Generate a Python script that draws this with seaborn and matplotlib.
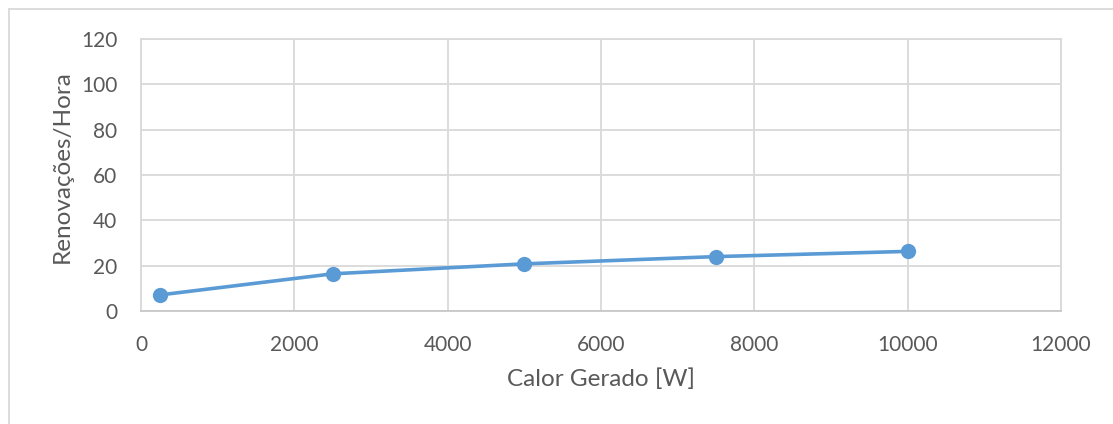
import matplotlib
matplotlib.use("Agg")
import matplotlib.pyplot as plt
import matplotlib.patches as mpatches
import seaborn as sns
import pandas as pd

# Heat generated [W] vs air changes per hour
calor_gerado = [250, 2500, 5000, 7500, 10000]
renovacoes = [7.1, 16.4, 20.8, 24.0, 26.3]

x_ticks = [0, 2000, 4000, 6000, 8000, 10000, 12000]
y_ticks = [0, 20, 40, 60, 80, 100, 120]

df = pd.DataFrame({"Calor Gerado [W]": calor_gerado, "Renovações/Hora": renovacoes})

sns.set_theme(style="white")
plt.rcParams["font.family"] = ["Lato", "DejaVu Sans"]

text_color = "#595959"
grid_color = "#D9D9D9"
line_color = "#5B9BD5"

W, H = 1113, 424
fig = plt.figure(figsize=(W / 100, H / 100), dpi=100)
ax = fig.add_axes([141 / W, 1 - 311 / H, (1061 - 141) / W, (311 - 39) / H])

sns.lineplot(data=df, x="Calor Gerado [W]", y="Renovações/Hora", ax=ax,
             color=line_color, linewidth=2.6, marker="o", markersize=11,
             markeredgewidth=0, zorder=3)

ax.set_xlim(0, 12000)
ax.set_ylim(0, 120)
ax.set_xticks(x_ticks)
ax.set_yticks(y_ticks)
ax.grid(True, color=grid_color, linewidth=1.3)
for side, sp in ax.spines.items():
    sp.set_visible(True)
    sp.set_color(grid_color)
    sp.set_linewidth(1.3)
ax.spines["bottom"].set_color("#C8C8C8")

ax.tick_params(axis="both", length=0, labelsize=15, colors=text_color)
ax.tick_params(axis="x", pad=17)
ax.tick_params(axis="y", pad=17)
ax.set_xlabel("Calor Gerado [W]", fontsize=17.5, color=text_color, labelpad=10)
ax.set_ylabel("Renovações/Hora", fontsize=17.5, color=text_color)
ax.yaxis.set_label_coords(-0.074, 0.53)

# Chart area frame
frame = mpatches.Rectangle((9 / W, -0.1), 1.2, (H - 9) / H + 0.1,
                           transform=fig.transFigure, fill=False,
                           edgecolor="#D9D9D9", linewidth=1.3)
fig.patches.append(frame)

fig.savefig("out.png", dpi=100, facecolor="white")
